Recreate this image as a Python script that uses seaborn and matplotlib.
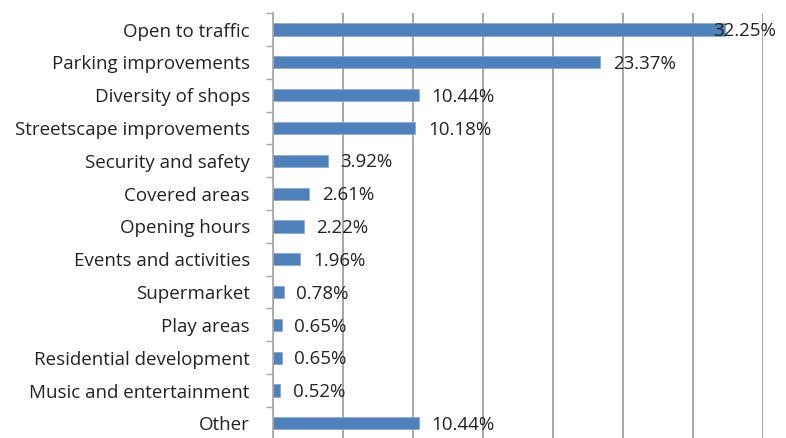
import numpy as np
import pandas as pd
import matplotlib.pyplot as plt
import seaborn as sns

# datos
categories = ['Open to traffic', 'Parking improvements', 'Diversity of shops',
              'Streetscape improvements', 'Security and safety', 'Covered areas',
              'Opening hours', 'Events and activities', 'Supermarket', 'Play areas',
              'Residential development', 'Music and entertainment', 'Other']
values = [32.25, 23.37, 10.44, 10.18, 3.92, 2.61, 2.22, 1.96, 0.78, 0.65, 0.65, 0.52, 10.44]

df = pd.DataFrame({'Category': categories, 'Percent': values})

sns.set_theme(style="white")
plt.rcParams['font.family'] = ['Open Sans', 'DejaVu Sans']

fig = plt.figure(figsize=(7.86, 4.38), dpi=100)
ax = fig.add_axes([0.347, -0.004, 0.624, 0.974])

sns.barplot(data=df, x='Percent', y='Category', orient='h', color='#4F81BD',
            saturation=1, width=0.37, edgecolor='#8DAAD6', linewidth=0.6, ax=ax)

ax.set_xlim(0, 35)
ax.set_ylim(len(categories) - 0.5, -0.5)
ax.set_xticks(np.arange(0, 36, 5))
ax.set_xticklabels([])
ax.tick_params(axis='x', length=0)
ax.grid(axis='x', color='#A6A6A6', linewidth=1.4)
ax.set_axisbelow(True)
ax.set_xlabel('')
ax.set_ylabel('')

# ticks entre categorias
ax.set_yticks(np.arange(len(categories)))
ax.set_yticklabels(categories, fontsize=13.5, color='#222222')
ax.tick_params(axis='y', which='major', length=0, pad=16.5)
ax.set_yticks(np.arange(-0.5, len(categories), 1), minor=True)
ax.tick_params(axis='y', which='minor', length=5, width=1, color='#A6A6A6', left=True)

for s in ['top', 'right', 'bottom']:
    ax.spines[s].set_visible(False)
ax.spines['left'].set_color('#A6A6A6')
ax.spines['left'].set_linewidth(1.2)

# etiquetas de valor
for i, v in enumerate(values):
    xpos = v + 0.9 if v < 30 else v - 0.8
    ax.text(xpos, i + 0.05, f'{v:.2f}%', va='center', ha='left', fontsize=13.5, color='#222222')

plt.savefig('out.png', dpi=100)
plt.close()
